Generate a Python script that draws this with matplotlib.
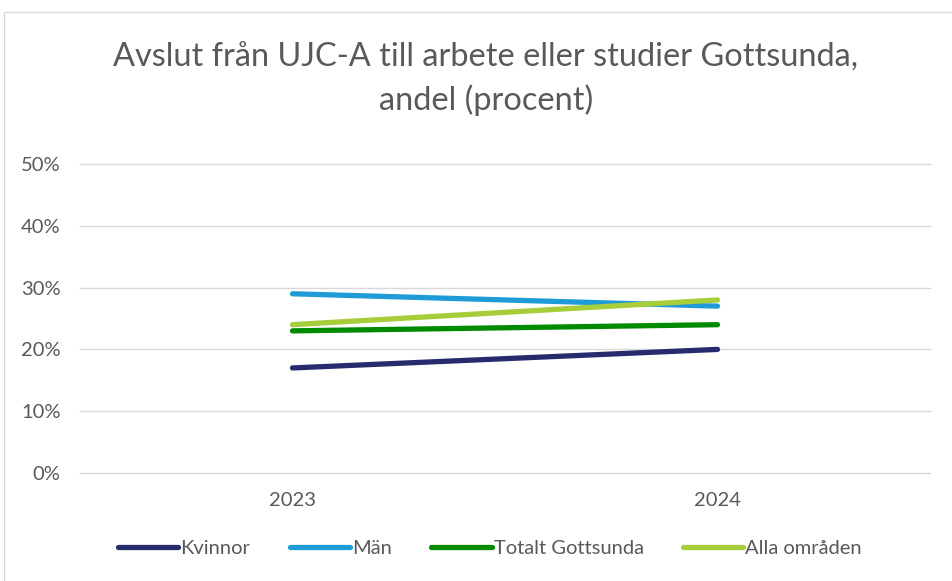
import matplotlib
matplotlib.use("Agg")
import matplotlib.pyplot as plt
from matplotlib.patches import Rectangle

years = ["2023", "2024"]
kvinnor = [0.17, 0.20]
man = [0.29, 0.27]
totalt = [0.23, 0.24]
alla = [0.24, 0.28]
series_names = ["Kvinnor", "Män", "Totalt Gottsunda", "Alla områden"]
colors = ["#262B6E", "#1F9BD7", "#008A00", "#A7CD3A"]
yticks = [0, 0.1, 0.2, 0.3, 0.4, 0.5]
ytick_labels = ["0%", "10%", "20%", "30%", "40%", "50%"]

plt.rcParams['font.family'] = ['Lato', 'DejaVu Sans']
fig = plt.figure(figsize=(9.53, 5.81), dpi=100)
fig.patches.append(Rectangle((4/953, -0.01), 1.0, 1 - 12/581 + 0.01, transform=fig.transFigure,
                             fill=False, edgecolor="#D9D9D9", linewidth=1))
ax = fig.add_axes([80/953, 1 - 473/581, 850/953, (473 - 164)/581])

x = list(range(len(years)))
for vals, name, c in zip([kvinnor, man, totalt, alla], series_names, colors):
    ax.plot(x, vals, color=c, linewidth=3.8, solid_capstyle="round", label=name)

ax.set_xlim(-0.5, 1.5)
ax.set_ylim(0, 0.5)
ax.set_yticks(yticks)
ax.set_yticklabels(ytick_labels)
ax.set_xticks(x)
ax.set_xticklabels(years)
ax.grid(axis="y", color="#D9D9D9", linewidth=1)
for gl in ax.get_ygridlines():
    gl.set_clip_on(False)
ax.set_axisbelow(True)
for s in ax.spines.values():
    s.set_visible(False)
ax.tick_params(length=0, labelsize=14.5, labelcolor="#595959")
ax.tick_params(axis="y", pad=14)
ax.tick_params(axis="x", pad=14)

fig.text(486/953, 1 - 79/581, "Avslut från UJC-A till arbete eller studier Gottsunda,\nandel (procent)",
         ha="center", va="center", fontsize=23.4, color="#595959", linespacing=1.45)

leg = fig.legend(loc="center", bbox_to_anchor=(490/953, 1 - 548/581), ncol=4, frameon=False,
                 fontsize=14.5, handlelength=3.0, handletextpad=0.1, columnspacing=1.95)
for t in leg.get_texts():
    t.set_color("#595959")

fig.savefig("out.png", dpi=100)
